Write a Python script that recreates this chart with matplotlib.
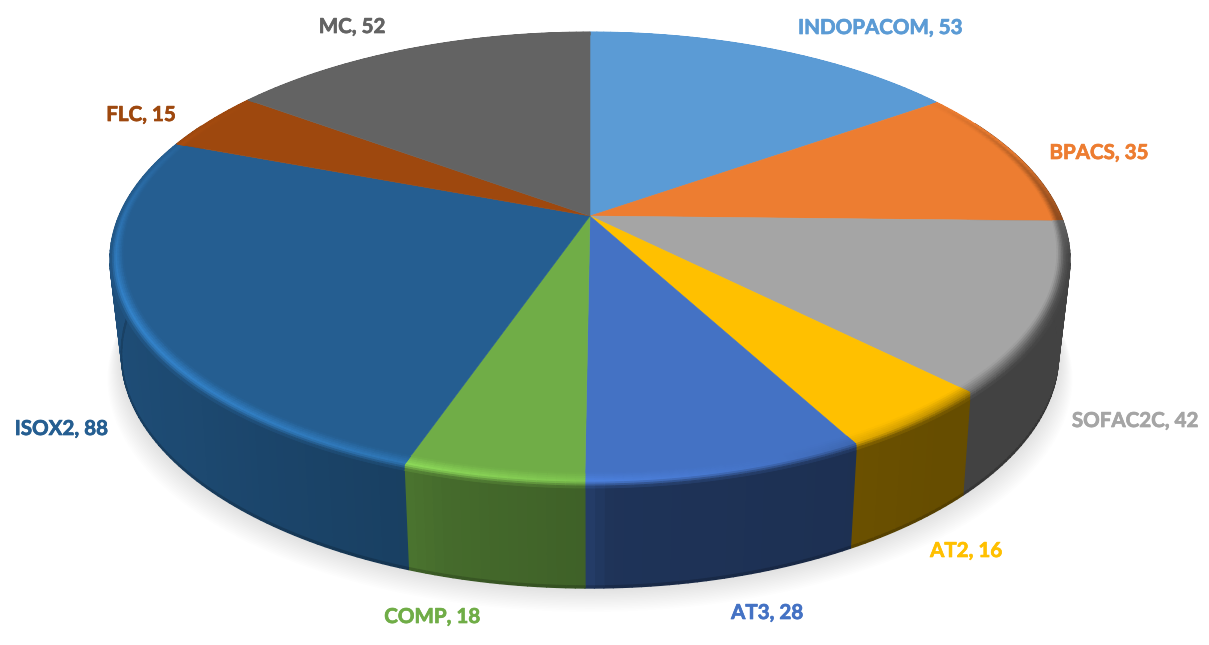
import numpy as np
import matplotlib
matplotlib.use("Agg")
import matplotlib.pyplot as plt
import matplotlib.patheffects as pe
from matplotlib.collections import PolyCollection
from matplotlib.colors import to_rgb
from matplotlib.patches import Polygon

# ---- data ----
categories = ["INDOPACOM", "BPACS", "SOFAC2C", "AT2", "AT3", "COMP", "ISOX2", "FLC", "MC"]
values = [53, 35, 42, 16, 28, 18, 88, 15, 52]
colors = ["#5B9BD5", "#ED7D31", "#A5A5A5", "#FFC000", "#4472C4",
          "#70AD47", "#255E91", "#9E480E", "#636363"]

# ---- layout (pixels) ----
label_centers = [(880, 28), (1099, 153), (1135, 421), (966, 551), (767, 613),
                 (432, 617), (61, 429), (141, 115), (352, 27)]
CX, CY, AX, BY, K = 590.0, 216.0, 471.0, 219.5, 0.193
DEPTH = 100.0
STEP = 1.0
CORNER = 0.985

fig = plt.figure(figsize=(12.09, 6.45), dpi=100)
ax = fig.add_axes([0, 0, 1, 1])
ax.set_xlim(0, 1209)
ax.set_ylim(645, 0)
ax.axis("off")


def top_pt(theta, r=1.0):
    t = np.radians(theta)
    u, v = r * np.sin(t), r * np.cos(t)
    w = 1 + K * v
    return CX + AX * u / w, CY - BY * v / w


def warp(theta, frac=1.0):
    """Angle on the outer rim that keeps a front seam vertical (rounded corners)."""
    v = np.cos(np.radians(theta))
    if v >= 0 or frac <= 0:
        return theta
    dx = top_pt(theta + 0.5)[0] - top_pt(theta - 0.5)[0]
    delta = (top_pt(theta, CORNER)[0] - top_pt(theta)[0]) / dx
    return theta + np.clip(delta, -2, 2) * frac * min(1, -2 * v)


def rim_pt(theta, r):
    frac = np.clip((r - CORNER) / (1 - CORNER), 0, 1)
    return top_pt(warp(theta, frac), r)


def bot_pt(theta):
    x, y = top_pt(theta)
    v = np.cos(np.radians(theta))
    s = 0.98 + 0.022 * min(v, 0)
    return CX + (x - CX) * s, y + DEPTH


def side_factor(theta):
    return np.interp(theta, [90, 140, 152, 178, 181, 195, 200, 230, 270, 300],
                     [.40, .40, .42, .45, .56, .62, .68, .78, .85, .85])


def mix(a, b, f):
    return tuple(np.array(a) * (1 - f) + np.array(b) * f)


# soft shadow under the pie
grid = np.arange(0, 360, 2.0)
bot = np.array([bot_pt(a) for a in grid])
N = 16
for i in range(N):
    e = 1 - i / (N - 1)
    sx = 1 + 0.030 * e
    pts = np.column_stack([CX + (bot[:, 0] - CX) * sx, bot[:, 1] + 24 * e])
    ax.add_patch(Polygon(pts, closed=True, fc="black", ec="none", alpha=0.009, zorder=1))

edges = np.concatenate([[0], np.cumsum(values)]) / np.sum(values) * 360.0

side_polys, side_cols = [], []
rim_polys, rim_cols = [], []
for i, col in enumerate(colors):
    base = to_rgb(col)
    a0, a1 = edges[i], edges[i + 1]
    n = max(2, int(np.ceil((a1 - a0) / STEP)))
    ang = np.linspace(a0, a1, n + 1)
    outline = [top_pt(0, 0)] + [top_pt(a, CORNER) for a in ang]
    ax.add_patch(Polygon(outline, closed=True, fc=base, ec=base, lw=0.4, zorder=3))
    for p, q in zip(ang[:-1], ang[1:]):
        m = 0.5 * (p + q)
        v = np.cos(np.radians(m))
        f = side_factor(m)
        side = tuple(np.array(base) * f)
        if v < 0.45:
            tp, tq = np.array(top_pt(warp(p))), np.array(top_pt(warp(q)))
            bp, bq = np.array(bot_pt(p)), np.array(bot_pt(q))
            cp, cq = tp + (bp - tp) * 0.98, tq + (bq - tq) * 0.98
            side_polys += [[tp, tq, cq, cp]]
            side_cols += [side]
            side_polys += [[cp, cq, bq, bp]]
            side_cols += [tuple(np.array(side) * 0.82)]
        # bevelled rim, about 12 px wide
        band = 0.022 + 0.024 * max(-v, 0)
        d = np.cos(np.radians(m - 250)) * np.clip((0.6 - v) / 1.0, 0, 1) * 0.7
        peak = tuple(np.clip(np.array(base) * (1 + 0.6 * d), 0, 1)) if d > 0 else mix(base, (0, 0, 0), -d)
        front = np.clip((0.3 - v) / 0.5, 0, 1)
        outer = mix(base, side, front)
        ts = np.linspace(0, 1, 9)
        rs = 1 - band + band * ts
        for t0, t1, r0, r1 in zip(ts[:-1], ts[1:], rs[:-1], rs[1:]):
            tm = 0.5 * (t0 + t1)
            c = mix(base, peak, tm / 0.6) if tm < 0.6 else mix(peak, outer, (tm - 0.6) / 0.4)
            rim_polys.append([rim_pt(p, r0), rim_pt(q, r0), rim_pt(q, r1), rim_pt(p, r1)])
            rim_cols.append(c)

ax.add_collection(PolyCollection(side_polys, facecolors=side_cols, edgecolors=side_cols,
                                 linewidths=1.0, zorder=2))
ax.add_collection(PolyCollection(rim_polys, facecolors=rim_cols, edgecolors=rim_cols,
                                 linewidths=0.7, zorder=4))

for name, val, col, (lx, ly) in zip(categories, values, colors, label_centers):
    ax.text(lx, ly, f"{name}, {val}", color=col, ha="center", va="center",
            fontsize=14.8, fontweight="bold", family=["Lato", "DejaVu Sans"], zorder=6,
            path_effects=[pe.withStroke(linewidth=0.5, foreground=col)])

fig.savefig("out.png", dpi=100, facecolor="white")
